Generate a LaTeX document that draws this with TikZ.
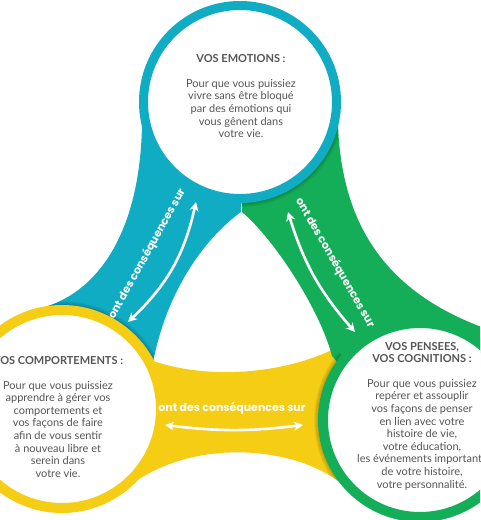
\documentclass[tikz,border=0pt]{standalone}
\usepackage{fontspec}
\setmainfont{Lato}
\newfontfamily\bandfont{Poppins}
\usetikzlibrary{arrows.meta}
\definecolor{emoTeal}{RGB}{16,172,196}
\definecolor{penGreen}{RGB}{20,174,88}
\definecolor{compYellow}{RGB}{244,205,20}
\definecolor{txtGray}{RGB}{85,85,85}

% the three bands, drawn under the circles
\newcommand{\tealband}{(142,395) .. controls (140,290) and (100,230) .. (45,213)
  -- (70,140) -- (152,152) .. controls (165,228) and (205,282) .. (241,308)
  -- (240,370) -- cycle}
\newcommand{\yellowband}{(145,162) .. controls (200,140) and (280,144) .. (336,172)
  -- (390,100) -- (338,39) .. controls (290,75) and (180,85) .. (115,22)
  -- (62,111) -- cycle}
\newcommand{\greenband}{(242,308) .. controls (275,280) and (320,210) .. (332,164)
  -- (390,100) -- (505,185) .. controls (390,220) and (342,290) .. (338,395)
  -- (240,370) -- cycle}

\begin{document}
\begin{tikzpicture}[
    x=1pt, y=1pt,
    ring/.style={circle, fill=white, inner sep=0pt},
    txt/.style={align=center, text=txtGray, font=\fontsize{11}{12.6}\selectfont},
    lbl/.style={text=white, font=\bandfont\bfseries\fontsize{11}{13}\selectfont},
    arr/.style={{Stealth[length=9pt,width=9pt]}-{Stealth[length=9pt,width=9pt]},
                line width=2.6pt, draw=white}
]
\useasboundingbox (0,0) rectangle (480,520);
\clip (0,0) rectangle (480,520);

\coordinate (emoC)  at (240,418);
\coordinate (compC) at (62,111);
\coordinate (penC)  at (420,100);

% bands
\fill[emoTeal]    \tealband;
\fill[compYellow] \yellowband;
\fill[penGreen]   \greenband;

% soft shadows where a circle lies on the band before it
\begin{scope}
  \clip \tealband;
  \foreach \d in {1,...,4} \fill[black, opacity=.05] (compC) circle (104+\d);
\end{scope}
\begin{scope}
  \clip \yellowband;
  \foreach \d in {1,...,4} \fill[black, opacity=.05] (penC) circle (102+\d);
\end{scope}
\begin{scope}
  \clip \greenband;
  \foreach \d in {1,...,4} \fill[black, opacity=.05] (emoC) circle (101+\d);
\end{scope}

% circles
\node[ring, draw=emoTeal,    line width=9pt,  minimum size=193pt] (emo)  at (emoC)  {};
\node[ring, draw=compYellow, line width=10pt, minimum size=198pt] (comp) at (compC) {};
\node[ring, draw=penGreen,   line width=10pt, minimum size=194pt] (pen)  at (penC)  {};

% texts
\node[txt] (emoTxt) at (241,424)
  {\textbf{VOS EMOTIONS :}\\[12.5pt]Pour que vous puissiez\\vivre sans être bloqué\\
   par des émotions qui\\vous gênent dans\\votre vie.};
\node[txt] (compTxt) at (58,103)
  {\textbf{VOS COMPORTEMENTS :}\\[12pt]Pour que vous puissiez\\apprendre à gérer vos\\
   comportements et\\vos façons de faire\\afin de vous sentir\\à nouveau libre et\\
   serein dans\\votre vie.};
\node[txt] (penTxt) at (422,104)
  {\textbf{VOS PENSEES,}\\\textbf{VOS COGNITIONS :}\\[12pt]Pour que vous puissiez\\
   repérer et assouplir\\vos façons de penser\\en lien avec votre\\histoire de vie,\\
   votre éducation,\\les événements importants\\de votre histoire,\\votre personnalité.};

% band labels
\node[lbl, rotate=61]  (emoLbl)  at (147,266) {ont des conséquences sur};
\node[lbl, rotate=-60] (penLbl)  at (335,257) {ont des conséquences sur};
\node[lbl]             (compLbl) at (232,112) {ont des conséquences sur};

% arrows
\coordinate (ea1) at (128,198);
\coordinate (ea2) at (196,318);
\coordinate (pa1) at (288,308);
\coordinate (pa2) at (355,188);
\coordinate (ca1) at (165,95);
\coordinate (ca2) at (303,95);
\draw[arr] (ea1) to[bend right=17] (ea2);
\draw[arr] (pa1) to[bend right=12] (pa2);
\draw[arr] (ca1) to[bend right=7]  (ca2);
\end{tikzpicture}
\end{document}
